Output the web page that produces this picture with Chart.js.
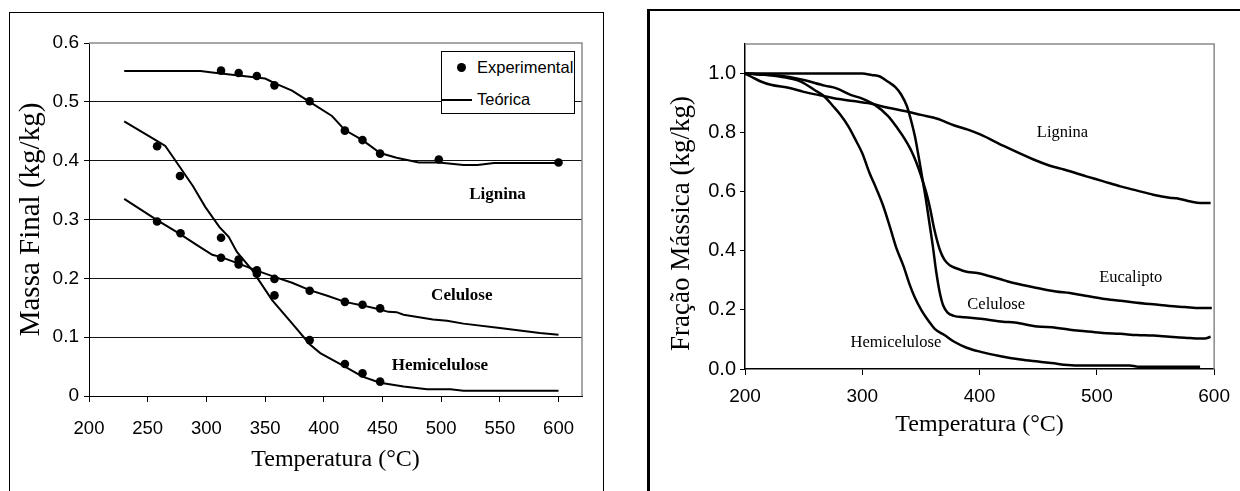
<!DOCTYPE html>
<html><head><meta charset="utf-8">
<script src="https://cdn.jsdelivr.net/npm/chart.js@4.4.1/dist/chart.umd.min.js"></script>
<style>
html,body{margin:0;padding:0;background:#fff;width:1240px;height:491px;overflow:hidden;position:relative;}
.frame{position:absolute;box-sizing:border-box;}
#frameL{left:9px;top:12px;width:595px;height:620px;border:1px solid #000;}
#frameR{left:647px;top:9px;width:700px;height:620px;border-left:3px solid #000;border-top:2px solid #000;}
canvas{position:absolute;top:0;}
#cL{left:0;}
#cR{left:620px;}
#legend{position:absolute;left:441px;top:51px;width:134px;height:63px;box-sizing:border-box;border:1px solid #000;background:#fff;font-family:"Liberation Sans",Arial,sans-serif;font-size:16.5px;color:#000;}
#legend .dot{position:absolute;left:15px;top:11px;width:9px;height:9px;border-radius:50%;background:#000;}
#legend .ln{position:absolute;left:0;top:47px;width:30px;height:2px;background:#000;}
#legend .t1{position:absolute;left:35px;top:5px;line-height:20px;white-space:nowrap;}
#legend .t2{position:absolute;left:35px;top:37px;line-height:20px;white-space:nowrap;}
</style>
</head><body>
<div class="frame" id="frameL"></div>
<div class="frame" id="frameR"></div>
<canvas id="cL" width="620" height="491"></canvas>
<canvas id="cR" width="620" height="491"></canvas>
<div id="legend"><span class="dot"></span><span class="t1">Experimental</span><span class="ln"></span><span class="t2">Teórica</span></div>
<script>
// ---------- Left chart data (Massa Final vs Temperatura) ----------
const ligTeoT = [230,295,305,320,335,350,360,373,380,388,407,418,433,448,462,481,498,519,531,545,600];
const ligTeoM = [0.5525,0.5523,0.550,0.5465,0.543,0.5395,0.530,0.519,0.510,0.500,0.476,0.452,0.435,0.413,0.405,0.397,0.397,0.3925,0.3925,0.396,0.396];
const ligExpT = [312.5,327.5,343,358,388,418,433,448,498,600];
const ligExpM = [0.553,0.549,0.544,0.528,0.501,0.451,0.435,0.412,0.402,0.397];

const celTeoT = [230,258,277,292,305,312,327,343,358,373,388,403,418,433,448,455,462,468,493,505,519,550,584,600];
const celTeoM = [0.335,0.299,0.276,0.2565,0.240,0.2365,0.2255,0.213,0.2025,0.1925,0.180,0.1705,0.160,0.154,0.147,0.143,0.1425,0.138,0.130,0.128,0.123,0.1155,0.107,0.104];
const celExpT = [258,278,312.5,327.5,343,358,388,418,433,448];
const celExpM = [0.2966,0.2766,0.235,0.2237,0.2137,0.199,0.179,0.160,0.155,0.149];

const hemTeoT = [230,245,260,265,273,288.5,299,311,319,326,339,356,373,388,397,418,433,448,468,488,508,519,600];
const hemTeoM = [0.4667,0.449,0.431,0.425,0.402,0.357,0.3215,0.2875,0.2706,0.245,0.214,0.163,0.1234,0.088,0.073,0.050,0.033,0.0226,0.016,0.0113,0.0113,0.009,0.009];
const hemExpT = [258,277.5,312.5,327.5,343,358,388,418,433,448];
const hemExpM = [0.4245,0.374,0.269,0.232,0.208,0.171,0.095,0.0545,0.0385,0.0245];

const leftXTicks = [200,250,300,350,400,450,500,550,600];
const leftYTicks = [0,0.1,0.2,0.3,0.4,0.5,0.6];

// ---------- Right chart data (Fração Mássica vs Temperatura) ----------
const rLigT = [200,205,213,222,238,250,266,280,294,305,322,340,350,364,378,390,401,421,446,460,472,491,505,520,535,548,562,568,580,588,597];
const rLigF = [1.0,0.99,0.974,0.962,0.951,0.938,0.925,0.914,0.906,0.900,0.884,0.870,0.860,0.847,0.825,0.810,0.793,0.754,0.709,0.688,0.675,0.652,0.636,0.618,0.603,0.590,0.580,0.578,0.567,0.562,0.562];

const rEucT = [200,210,228,248,268,278,290,300,311,322,330,336,341,346,350,355,358,361,366,370,375,380,390,398,408,421,430,449,465,477,490,505,520,534,548,562,575,588,598];
const rEucF = [1.0,0.997,0.993,0.980,0.959,0.950,0.928,0.915,0.893,0.856,0.815,0.78,0.745,0.70,0.655,0.59,0.54,0.48,0.405,0.37,0.35,0.341,0.328,0.325,0.315,0.300,0.290,0.274,0.262,0.257,0.248,0.238,0.231,0.224,0.219,0.213,0.210,0.2066,0.2066];

const rCelT = [200,300,308,315,322,328,333,338,342,345,348,351,354,357,360,363,366,369,373,378,387,401,420,430,449,465,477,490,505,520,534,548,562,575,588,592,597];
const rCelF = [1.0,1.0,0.995,0.99,0.972,0.955,0.93,0.89,0.835,0.785,0.72,0.65,0.58,0.50,0.42,0.33,0.26,0.215,0.19,0.18,0.175,0.170,0.160,0.157,0.144,0.140,0.133,0.128,0.122,0.119,0.115,0.113,0.109,0.106,0.103,0.103,0.109];

const rHemT = [200,215,228,240,248,261,267,275,281,288,295,300,306,312,318,324,329,335,340,345,351,357,362,370,378,389,401,418,435,450,461,481,500,528,535,588];
const rHemF = [1.0,0.997,0.991,0.982,0.972,0.94,0.925,0.89,0.862,0.822,0.770,0.73,0.665,0.61,0.55,0.475,0.41,0.35,0.29,0.24,0.195,0.16,0.135,0.115,0.093,0.072,0.058,0.043,0.032,0.025,0.020,0.012,0.012,0.012,0.008,0.008];

const rightXTicks = [200,300,400,500,600];
const rightYTicks = [0,0.2,0.4,0.6,0.8,1.0];

// ---------- helpers ----------
const pts = (xs, ys) => xs.map((x, i) => ({x, y: ys[i]}));
const SANS = '"Liberation Sans", Arial, sans-serif';
const SERIF = '"Liberation Serif", "Times New Roman", serif';
Chart.defaults.color = '#000';
Chart.defaults.font.family = SANS;

const plotBorder = {
  id: 'plotBorder',
  beforeDatasetsDraw(chart) {
    const {ctx, chartArea: a} = chart;
    ctx.save();
    ctx.strokeStyle = '#8a8a8a';
    ctx.lineWidth = 1.5;
    ctx.beginPath();
    ctx.moveTo(a.left, a.top);
    ctx.lineTo(a.right, a.top);
    ctx.lineTo(a.right, a.bottom);
    ctx.stroke();
    ctx.restore();
  }
};

const curveLabels = {
  id: 'curveLabels',
  afterDatasetsDraw(chart, args, opts) {
    const {ctx, scales: {x, y}} = chart;
    ctx.save();
    ctx.fillStyle = '#000';
    ctx.textAlign = 'center';
    ctx.textBaseline = 'middle';
    ctx.font = opts.font;
    (opts.items || []).forEach(it => {
      ctx.fillText(it.text, x.getPixelForValue(it.x), y.getPixelForValue(it.y));
    });
    if (opts.yTitle) {
      ctx.translate(opts.yTitle.px, opts.yTitle.py);
      ctx.rotate(-Math.PI / 2);
      ctx.font = opts.yTitle.font;
      ctx.fillText(opts.yTitle.text, 0, 0);
    }
    ctx.restore();
  }
};

const lineDs = (data, w) => ({data, showLine: true, pointRadius: 0, borderColor: '#000', borderWidth: w, tension: 0, fill: false});
const dotDs = (data) => ({data, showLine: false, pointRadius: 4.3, pointBackgroundColor: '#000', pointBorderColor: '#000', pointBorderWidth: 0});

// ---------- Left chart ----------
new Chart(document.getElementById('cL'), {
  type: 'scatter',
  data: {
    datasets: [
      lineDs(pts(ligTeoT, ligTeoM), 2),
      lineDs(pts(celTeoT, celTeoM), 2),
      lineDs(pts(hemTeoT, hemTeoM), 2),
      dotDs(pts(ligExpT, ligExpM)),
      dotDs(pts(celExpT, celExpM)),
      dotDs(pts(hemExpT, hemExpM))
    ]
  },
  options: {
    responsive: false, animation: false, events: [],
    layout: {padding: {top: 43, right: 38, left: 0, bottom: 0}},
    plugins: {
      legend: {display: false}, tooltip: {enabled: false},
      curveLabels: {
        font: 'bold 17px ' + SERIF,
        items: [
          {text: 'Lignina', x: 548, y: 0.342},
          {text: 'Celulose', x: 517.6, y: 0.171},
          {text: 'Hemicelulose', x: 499, y: 0.0525}
        ]
      }
    },
    scales: {
      x: {
        type: 'linear', min: 200, max: 620,
        afterBuildTicks: s => { s.ticks = leftXTicks.map(v => ({value: v})); },
        afterFit: s => { s.height = 95; },
        ticks: {font: {size: 18.5}, padding: 16, maxRotation: 0, autoSkip: false, callback: v => String(v)},
        grid: {drawOnChartArea: false, drawTicks: true, tickLength: 6, color: '#000', tickColor: '#000'},
        border: {color: '#000', width: 1},
        title: {display: true, text: 'Temperatura (°C)', font: {family: SERIF, size: 24}, padding: {top: 0, bottom: 17}}
      },
      y: {
        type: 'linear', min: 0, max: 0.6,
        afterBuildTicks: s => { s.ticks = leftYTicks.map(v => ({value: v})); },
        afterFit: s => { s.width = 89; },
        ticks: {font: {size: 19}, padding: 5, callback: v => v === 0 ? '0' : v.toFixed(1)},
        grid: {drawOnChartArea: true, drawTicks: true, tickLength: 5, tickColor: '#000',
               color: c => (c.tick && c.tick.value > 0.59) ? 'rgba(0,0,0,0)' : '#111', lineWidth: 1},
        border: {color: '#000', width: 1},
        title: {display: true, text: 'Massa Final (kg/kg)', font: {family: SERIF, size: 29}, padding: {top: 14, bottom: 0}}
      }
    }
  },
  plugins: [plotBorder, curveLabels]
});

// ---------- Right chart ----------
new Chart(document.getElementById('cR'), {
  type: 'scatter',
  data: {
    datasets: [
      Object.assign(lineDs(pts(rLigT, rLigF), 2.5), {cubicInterpolationMode: 'monotone'}),
      Object.assign(lineDs(pts(rEucT, rEucF), 2.5), {cubicInterpolationMode: 'monotone'}),
      Object.assign(lineDs(pts(rCelT, rCelF), 2.5), {cubicInterpolationMode: 'monotone'}),
      Object.assign(lineDs(pts(rHemT, rHemF), 2.5), {cubicInterpolationMode: 'monotone'})
    ]
  },
  options: {
    responsive: false, animation: false, events: [],
    layout: {padding: {top: 44, right: 21, left: 0, bottom: 0}},
    plugins: {
      legend: {display: false}, tooltip: {enabled: false},
      curveLabels: {
        font: '16.5px ' + SERIF,
        items: [
          {text: 'Lignina', x: 470.7, y: 0.801},
          {text: 'Eucalipto', x: 528.9, y: 0.308},
          {text: 'Celulose', x: 414.2, y: 0.218},
          {text: 'Hemicelulose', x: 328.7, y: 0.088}
        ],
        yTitle: {text: 'Fração Mássica (kg/kg)', px: 62, py: 223.5, font: '27px ' + SERIF}
      }
    },
    scales: {
      x: {
        type: 'linear', min: 200, max: 600,
        afterBuildTicks: s => { s.ticks = rightXTicks.map(v => ({value: v})); },
        afterFit: s => { s.height = 122; },
        ticks: {font: {size: 19}, padding: 10, maxRotation: 0, autoSkip: false, callback: v => String(v)},
        grid: {drawOnChartArea: false, drawTicks: true, tickLength: 6, color: '#000', tickColor: '#000'},
        border: {color: '#000', width: 1.5},
        title: {display: true, text: 'Temperatura (°C)', font: {family: SERIF, size: 24}, padding: {top: 0, bottom: 52}}
      },
      y: {
        type: 'linear', min: 0, max: 1.1,
        afterBuildTicks: s => { s.ticks = rightYTicks.map(v => ({value: v})); },
        afterFit: s => { s.width = 125; },
        ticks: {font: {size: 20}, padding: 4, callback: v => v.toFixed(1)},
        grid: {drawOnChartArea: false, drawTicks: true, tickLength: 5, color: '#000', tickColor: '#000'},
        border: {color: '#000', width: 1.5},
        title: {display: false}
      }
    }
  },
  plugins: [plotBorder, curveLabels]
});
</script>
</body></html>
